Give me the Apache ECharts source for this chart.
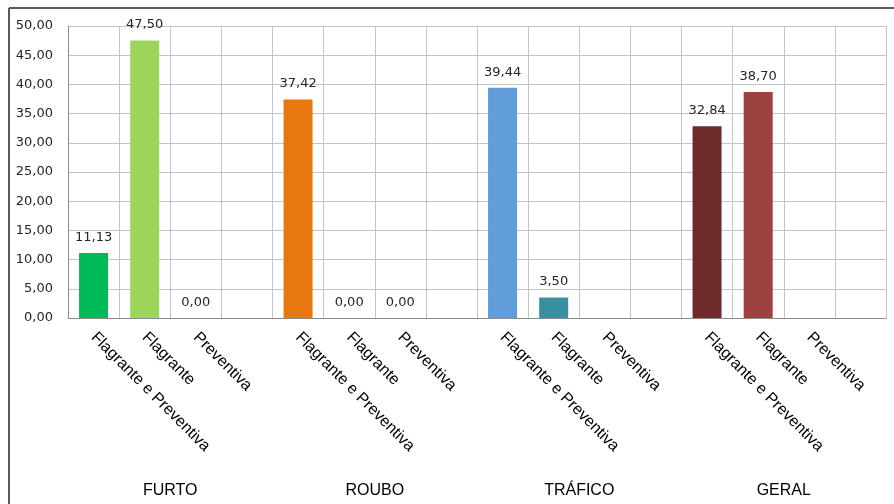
<!DOCTYPE html>
<html>
<head>
<meta charset="utf-8">
<script src="https://cdn.jsdelivr.net/npm/echarts@6/dist/echarts.min.js"></script>
<style>html,body{margin:0;padding:0;background:#fff}#c{width:894px;height:504px}</style>
</head>
<body>
<div id="c"></div>
<script>
var groups = ['FURTO', 'ROUBO', 'TRÁFICO', 'GERAL'];
var types = ['Flagrante e Preventiva', 'Flagrante', 'Preventiva', ''];
var furto = [11.13, 47.50, 0, null];
var roubo = [37.42, 0, 0, null];
var trafico = [39.44, 3.50, null, null];
var geral = [32.84, 38.70, null, null];
var colors = [
  ['#00B957', '#9DD55A', '#9DD55A', '#9DD55A'],
  ['#E8770F', '#E8770F', '#E8770F', '#E8770F'],
  ['#619CDB', '#378F9F', '#378F9F', '#378F9F'],
  ['#6D2B2B', '#9E4241', '#9E4241', '#9E4241']
];
var yTicks = { min: 0, max: 50, interval: 5 };

var categories = [];
var values = [];
var seriesByGroup = [furto, roubo, trafico, geral];
groups.forEach(function (g, gi) {
  types.forEach(function (t, ti) {
    categories.push(t);
    var v = seriesByGroup[gi][ti];
    values.push(v === null ? null : { value: v, itemStyle: { color: colors[gi][ti] } });
  });
});

function fmt(v) { return Number(v).toFixed(2).replace('.', ','); }

var chart = echarts.init(document.getElementById('c'));
chart.setOption({
  animation: false,
  backgroundColor: '#fff',
  grid: { left: 68, right: 8, top: 26, bottom: 186, containLabel: false },
  xAxis: [{
    type: 'category',
    position: 'bottom',
    data: categories,
    axisLine: { lineStyle: { color: '#8c8c8c', width: 1 } },
    axisTick: { show: false },
    splitLine: { show: true, interval: 0, lineStyle: { color: '#c4c4c4', width: 1 } },
    axisLabel: {
      interval: 0, rotate: -45, margin: 17,
      fontFamily: 'Liberation Sans, Arial', fontSize: 16, color: '#000'
    }
  }, {
    type: 'category',
    position: 'bottom',
    data: groups,
    axisLine: { show: false },
    axisTick: { show: false },
    splitLine: { show: false },
    axisLabel: {
      interval: 0, margin: 165,
      fontFamily: 'Liberation Sans, Arial', fontSize: 16, color: '#000'
    }
  }],
  yAxis: {
    type: 'value',
    min: yTicks.min, max: yTicks.max, interval: yTicks.interval,
    axisLine: { show: true, lineStyle: { color: '#8c8c8c' } },
    axisTick: { show: false },
    splitLine: { show: true, lineStyle: { color: '#c4c4c4' } },
    axisLabel: {
      margin: 15, formatter: fmt,
      fontFamily: 'DejaVu Sans, Verdana', fontSize: 13, color: '#262626'
    }
  },
  series: [{
    type: 'bar',
    xAxisIndex: 0,
    data: values,
    barWidth: 29,
    label: {
      show: true, position: 'top', distance: 9,
      formatter: function (p) { return fmt(p.value); },
      fontFamily: 'DejaVu Sans, Verdana', fontSize: 13, color: '#262626'
    }
  }],
  graphic: [
    { type: 'line', shape: { x1: 9, y1: 8, x2: 894, y2: 8 }, style: { stroke: '#5a5a5a', lineWidth: 2 } },
    { type: 'line', shape: { x1: 9, y1: 8, x2: 9, y2: 504 }, style: { stroke: '#5a5a5a', lineWidth: 2 } }
  ]
});
</script>
</body>
</html>
